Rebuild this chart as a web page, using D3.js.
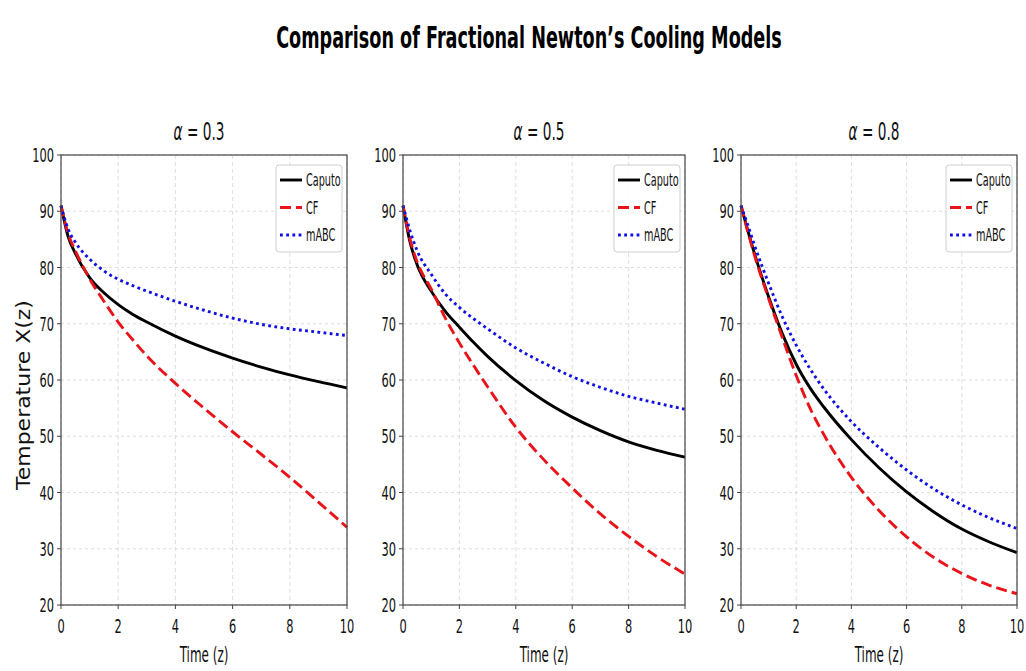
<!DOCTYPE html>
<html>
<head>
<meta charset="utf-8">
<script src="https://cdn.jsdelivr.net/npm/d3@7"></script>
<style>
  html, body { margin: 0; padding: 0; background: #fff; }
  svg { display: block; font-family: "DejaVu Sans", sans-serif; }
</style>
</head>
<body>
<div id="chart"></div>
<script>
// data
const times = [0, 0.25, 0.5, 1, 1.5, 2, 2.5, 3, 4, 5, 6, 7, 8, 9, 10];
const alphas = [0.3, 0.5, 0.8];
const seriesNames = ['Caputo', 'CF', 'mABC'];

const caputo03 = [91, 85.5, 82.5, 78.2, 75.5, 73.4, 71.7, 70.3, 67.8, 65.7, 63.9, 62.3, 60.9, 59.7, 58.6];
const cf03     = [91, 86.0, 83.0, 78.0, 74.0, 70.3, 67.2, 64.3, 59.4, 55.0, 50.8, 46.8, 42.7, 38.3, 33.8];
const mabc03   = [91, 86.8, 84.5, 81.5, 79.4, 77.9, 76.8, 75.8, 74.0, 72.4, 71.0, 69.9, 69.1, 68.5, 67.9];

const caputo05 = [91, 84.5, 80.5, 75.8, 72.2, 69.4, 66.7, 64.2, 59.9, 56.3, 53.4, 51.0, 49.0, 47.5, 46.3];
const cf05     = [91, 85.0, 81.0, 76.2, 71.0, 66.6, 62.6, 58.8, 51.6, 45.8, 40.8, 36.2, 32.2, 28.6, 25.5];
const mabc05   = [91, 86.5, 83.0, 78.8, 75.3, 72.9, 70.9, 69.1, 65.7, 63.0, 60.6, 58.7, 57.1, 55.9, 54.8];

const caputo08 = [91, 86.5, 82.3, 74.8, 68.2, 62.8, 58.6, 55.2, 49.4, 44.4, 40.1, 36.5, 33.5, 31.2, 29.3];
const cf08     = [91, 86.3, 82.0, 74.5, 67.5, 60.8, 55.0, 50.3, 42.7, 36.8, 32.1, 28.4, 25.6, 23.5, 22.0];
const mabc08   = [91, 87.5, 83.8, 77.2, 71.2, 66.2, 62.0, 58.4, 52.6, 48.0, 44.0, 40.6, 37.8, 35.5, 33.6];

const panelSeries = [
  [caputo03, cf03, mabc03],
  [caputo05, cf05, mabc05],
  [caputo08, cf08, mabc08]
];
const xTicks = [0, 2, 4, 6, 8, 10];
const yTicks = [20, 30, 40, 50, 60, 70, 80, 90, 100];

const W = 1026, H = 671;
const SX = 0.57; // the reference's lettering is squeezed sideways
const panels = [[61, 347], [403, 685], [741, 1017]];
const plotTop = 155, plotBottom = 605;
const styles = [
  { color: '#000', dash: null, width: 2.9 },
  { color: '#e8141a', dash: '11,5', width: 2.9 },
  { color: '#1010e6', dash: '2.8,3.4', width: 2.9 }
];

const svg = d3.select('#chart').append('svg').attr('width', W).attr('height', H);

// squeezed text helper
const label = (g, x, y, txt, { size = 18, anchor = 'middle', weight = 400, sx = SX, fill = '#111' } = {}) => {
  const t = g.append('g').attr('transform', `translate(${x},${y}) scale(${sx},1)`)
    .append('text').attr('text-anchor', anchor)
    .style('font-size', size + 'px').style('font-weight', weight).style('fill', fill);
  t.text(txt);
  return t;
};

// fit a text to a given width by squeezing it
const fitted = (x, y, txt, width, { size, weight = 400, rotate = 0, fill = '#111' }) => {
  const g = svg.append('g');
  const t = g.append('text').attr('text-anchor', 'middle')
    .style('font-size', size + 'px').style('font-weight', weight).style('fill', fill).text(txt);
  const k = width / t.node().getComputedTextLength();
  g.attr('transform', `translate(${x},${y}) rotate(${rotate}) scale(${k},1)`);
  return t;
};

fitted(529, 48, 'Comparison of Fractional Newton’s Cooling Models', 506, { size: 31, weight: 700, fill: '#000' });
fitted(30, 395, 'Temperature X(z)', 190, { size: 20, rotate: -90 });

const yScale = d3.scaleLinear().domain([20, 100]).range([plotBottom, plotTop]);

panels.forEach(([x0, x1], pi) => {
  const x = d3.scaleLinear().domain([0, 10]).range([x0, x1]);
  const g = svg.append('g');

  // grid
  g.append('g').selectAll('line').data(xTicks).join('line')
    .attr('x1', d => x(d)).attr('x2', d => x(d)).attr('y1', plotTop).attr('y2', plotBottom)
    .attr('stroke', '#d6d6d6').attr('stroke-width', 0.8).attr('stroke-dasharray', '4,3');
  g.append('g').selectAll('line').data(yTicks).join('line')
    .attr('x1', x0).attr('x2', x1).attr('y1', d => yScale(d)).attr('y2', d => yScale(d))
    .attr('stroke', '#d6d6d6').attr('stroke-width', 0.8).attr('stroke-dasharray', '3,3');

  // curves
  const line = d3.line().x((d, i) => x(times[i])).y(d => yScale(d)).curve(d3.curveMonotoneX);
  panelSeries[pi].forEach((vals, si) => {
    const s = styles[si];
    g.append('path').datum(vals).attr('d', line).attr('fill', 'none')
      .attr('stroke', s.color).attr('stroke-width', s.width)
      .attr('stroke-dasharray', s.dash);
  });

  // spines
  g.append('rect').attr('x', x0).attr('y', plotTop).attr('width', x1 - x0).attr('height', plotBottom - plotTop)
    .attr('fill', 'none').attr('stroke', '#444').attr('stroke-width', 1.2);

  // ticks + labels
  xTicks.forEach(t => {
    g.append('line').attr('x1', x(t)).attr('x2', x(t)).attr('y1', plotBottom).attr('y2', plotBottom + 4)
      .attr('stroke', '#444').attr('stroke-width', 1);
    label(g, x(t), plotBottom + 28, t, { size: 20 });
  });
  yTicks.forEach(t => {
    g.append('line').attr('x1', x0 - 4).attr('x2', x0).attr('y1', yScale(t)).attr('y2', yScale(t))
      .attr('stroke', '#444').attr('stroke-width', 1);
    label(g, x0 - 7, yScale(t) + 7, t, { size: 20, anchor: 'end' });
  });

  label(g, (x0 + x1) / 2, plotBottom + 57, 'Time (z)', { size: 21 });

  // subplot title with italic alpha
  const tt = g.append('g').attr('transform', `translate(${(x0 + x1) / 2 - 5},140) scale(0.57,1)`)
    .append('text').attr('text-anchor', 'middle').style('font-size', '24px').style('fill', '#111');
  tt.append('tspan').style('font-style', 'italic').text('α');
  tt.append('tspan').text(' = ' + alphas[pi]);

  // legend
  const lw = 66, lh = 87, lx = x1 - 5 - lw, ly = plotTop + 10;
  g.append('rect').attr('x', lx).attr('y', ly).attr('width', lw).attr('height', lh).attr('rx', 3)
    .attr('fill', '#fff').attr('fill-opacity', 0.85).attr('stroke', '#cfcfcf').attr('stroke-width', 1);
  seriesNames.forEach((nm, si) => {
    const s = styles[si];
    const cy = ly + 15 + si * 27.5;
    g.append('line').attr('x1', lx + 4).attr('x2', lx + 26).attr('y1', cy).attr('y2', cy)
      .attr('stroke', s.color).attr('stroke-width', s.width).attr('stroke-dasharray', s.dash);
    label(g, lx + 30, cy + 6, nm, { size: 17, anchor: 'start' });
  });
});
</script>
</body>
</html>
